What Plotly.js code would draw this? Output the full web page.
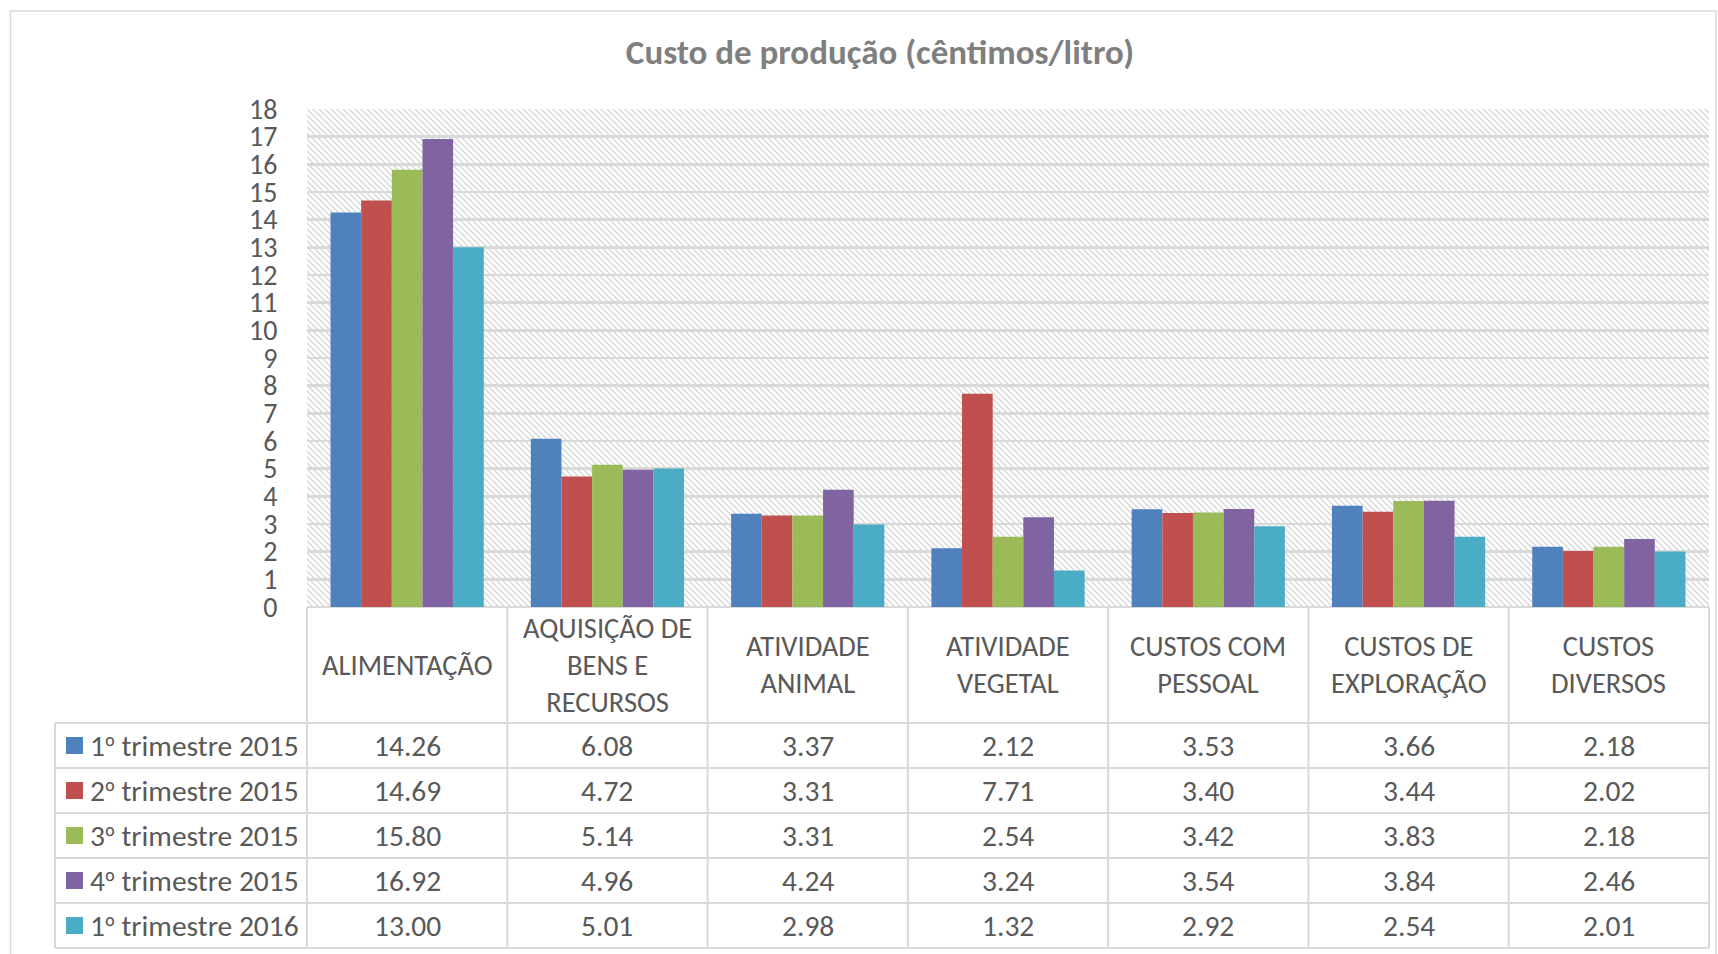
<!DOCTYPE html>
<html>
<head>
<meta charset="utf-8">
<script src="https://cdn.plot.ly/plotly-3.0.1.min.js"></script>
<style>html,body{margin:0;padding:0;background:#fff;}#chart{width:1718px;height:954px;}</style>
</head>
<body>
<div id="chart"></div>
<script>
// ---- data ----
const categories = ["ALIMENTAÇÃO", "AQUISIÇÃO DE BENS E RECURSOS", "ATIVIDADE ANIMAL", "ATIVIDADE VEGETAL", "CUSTOS COM PESSOAL", "CUSTOS DE EXPLORAÇÃO", "CUSTOS DIVERSOS"];
const categoryLabels = ["ALIMENTAÇÃO", "AQUISIÇÃO DE<br>BENS E<br>RECURSOS", "ATIVIDADE<br>ANIMAL", "ATIVIDADE<br>VEGETAL", "CUSTOS COM<br>PESSOAL", "CUSTOS DE<br>EXPLORAÇÃO", "CUSTOS<br>DIVERSOS"];
const seriesNames = ["1º trimestre 2015", "2º trimestre 2015", "3º trimestre 2015", "4º trimestre 2015", "1º trimestre 2016"];
const q1_2015 = [14.26, 6.08, 3.37, 2.12, 3.53, 3.66, 2.18];
const q2_2015 = [14.69, 4.72, 3.31, 7.71, 3.40, 3.44, 2.02];
const q3_2015 = [15.80, 5.14, 3.31, 2.54, 3.42, 3.83, 2.18];
const q4_2015 = [16.92, 4.96, 4.24, 3.24, 3.54, 3.84, 2.46];
const q1_2016 = [13.00, 5.01, 2.98, 1.32, 2.92, 2.54, 2.01];
const yTicks = [0,1,2,3,4,5,6,7,8,9,10,11,12,13,14,15,16,17,18];
const chartTitle = "Custo de produção (cêntimos/litro)";

// ---- style / layout ----
const seriesValues = [q1_2015, q2_2015, q3_2015, q4_2015, q1_2016];
const colors = ["#4F81BD", "#C0504D", "#9BBB59", "#8064A2", "#4BACC6"];
const FONT = "Carlito, Calibri, Lato, 'Open Sans', sans-serif";
const TXT = "#595959";
const GRID = "#d9d9d9";
const W = 1718, H = 954;
const L = 307, R = 1709, T = 109, B = 607;
const headerBottom = 723, rowH = 45, tableLeft = 55;
const PW = R - L, PH = B - T;
const xp = px => (px - L) / PW;
const yp = py => (B - py) / PH;
const nCat = categories.length;
const colLeft = i => i / nCat; // paper x of category boundary (x range [-0.5, n-0.5])

const traces = seriesNames.map((name, k) => ({
  type: "bar", name: name, x: categories, y: seriesValues[k],
  marker: {color: colors[k], line: {width: 0}}, hoverinfo: "skip"
}));

// hatch background image
const hatch = "<svg xmlns='http://www.w3.org/2000/svg' width='" + PW + "' height='" + PH + "'>" +
  "<defs><pattern id='p' width='6' height='6' patternUnits='userSpaceOnUse'>" +
  "<rect width='6' height='6' fill='#ffffff'/>" +
  "<path d='M0,0 L6,6 M-1,5 L1,7 M5,-1 L7,1' stroke='#d9d9d9' stroke-width='1.5'/></pattern></defs>" +
  "<rect width='100%' height='100%' fill='url(#p)'/></svg>";
const hatchURI = "data:image/svg+xml;charset=utf-8," + encodeURIComponent(hatch);

const shapes = [];
const annotations = [];
const line = (x0, y0, x1, y1) => shapes.push({type: "line", xref: "paper", yref: "paper", x0: x0, y0: y0, x1: x1, y1: y1, line: {color: GRID, width: 2}});

// outer chart border
shapes.push({type: "rect", xref: "paper", yref: "paper", x0: xp(10.5), x1: xp(1716), y0: yp(11), y1: yp(970),
  line: {color: "#d9d9d9", width: 1.5}, fillcolor: "rgba(0,0,0,0)", layer: "below"});

// table horizontal lines
for (let r = 0; r <= seriesNames.length; r++) {
  const py = headerBottom + r * rowH;
  line(xp(tableLeft), yp(py), 1, yp(py));
}
// vertical lines
line(xp(tableLeft), yp(headerBottom), xp(tableLeft), yp(headerBottom + seriesNames.length * rowH));
for (let i = 0; i <= nCat; i++) {
  line(colLeft(i), yp(B), colLeft(i), yp(headerBottom + seriesNames.length * rowH));
}

// header labels
categoryLabels.forEach((lab, i) => {
  annotations.push({xref: "x", yref: "paper", x: categories[i], y: yp((B + headerBottom) / 2),
    text: lab, showarrow: false, xanchor: "center", yanchor: "middle", align: "center",
    font: {family: FONT, size: 28.5, color: TXT}});
});

// rows
seriesNames.forEach((name, k) => {
  const cy = headerBottom + (k + 0.5) * rowH;
  shapes.push({type: "rect", xref: "paper", yref: "paper", x0: xp(66), x1: xp(83), y0: yp(cy - 8.5), y1: yp(cy + 8.5),
    fillcolor: colors[k], line: {width: 0}});
  const label = name.replace("º", "<span style='font-family:Noto Sans;font-size:26px'>º</span>");
  annotations.push({xref: "paper", yref: "paper", x: xp(88), y: yp(cy), text: label, showarrow: false,
    xanchor: "left", yanchor: "middle", font: {family: FONT, size: 29.5, color: TXT}});
  seriesValues[k].forEach((v, i) => {
    annotations.push({xref: "x", yref: "paper", x: categories[i], y: yp(cy), text: v.toFixed(2), showarrow: false,
      xanchor: "center", yanchor: "middle", font: {family: FONT, size: 29.5, color: TXT}});
  });
});

const layout = {
  width: W, height: H,
  margin: {l: L, r: W - R, t: T, b: H - B, pad: 0},
  paper_bgcolor: "#ffffff", plot_bgcolor: "#ffffff",
  showlegend: false,
  barmode: "group", bargap: 0.235, bargroupgap: 0,
  title: {text: chartTitle, xref: "container", yref: "container", x: 880 / W, y: 1 - 52 / H,
    xanchor: "center", yanchor: "middle", font: {family: FONT, size: 35, color: "#7f7f7f", weight: "bold"}},
  xaxis: {type: "category", categoryarray: categories, range: [-0.5, nCat - 0.5],
    showticklabels: false, showgrid: false, zeroline: false, showline: false, ticks: "", fixedrange: true},
  yaxis: {range: [0, 18], tickvals: yTicks, ticktext: yTicks.map(String), showgrid: true, gridcolor: GRID, gridwidth: 2.5,
    zeroline: true, zerolinecolor: GRID, zerolinewidth: 2, showline: false,
    ticks: "outside", ticklen: 23, tickcolor: "rgba(0,0,0,0)",
    tickfont: {family: FONT, size: 28, color: TXT}, fixedrange: true},
  images: [{source: hatchURI, xref: "paper", yref: "paper", x: 0, y: 1, sizex: 1, sizey: 1,
    xanchor: "left", yanchor: "top", sizing: "stretch", layer: "below"}],
  shapes: shapes,
  annotations: annotations
};

Plotly.newPlot("chart", traces, layout, {staticPlot: true, displayModeBar: false});
</script>
</body>
</html>
